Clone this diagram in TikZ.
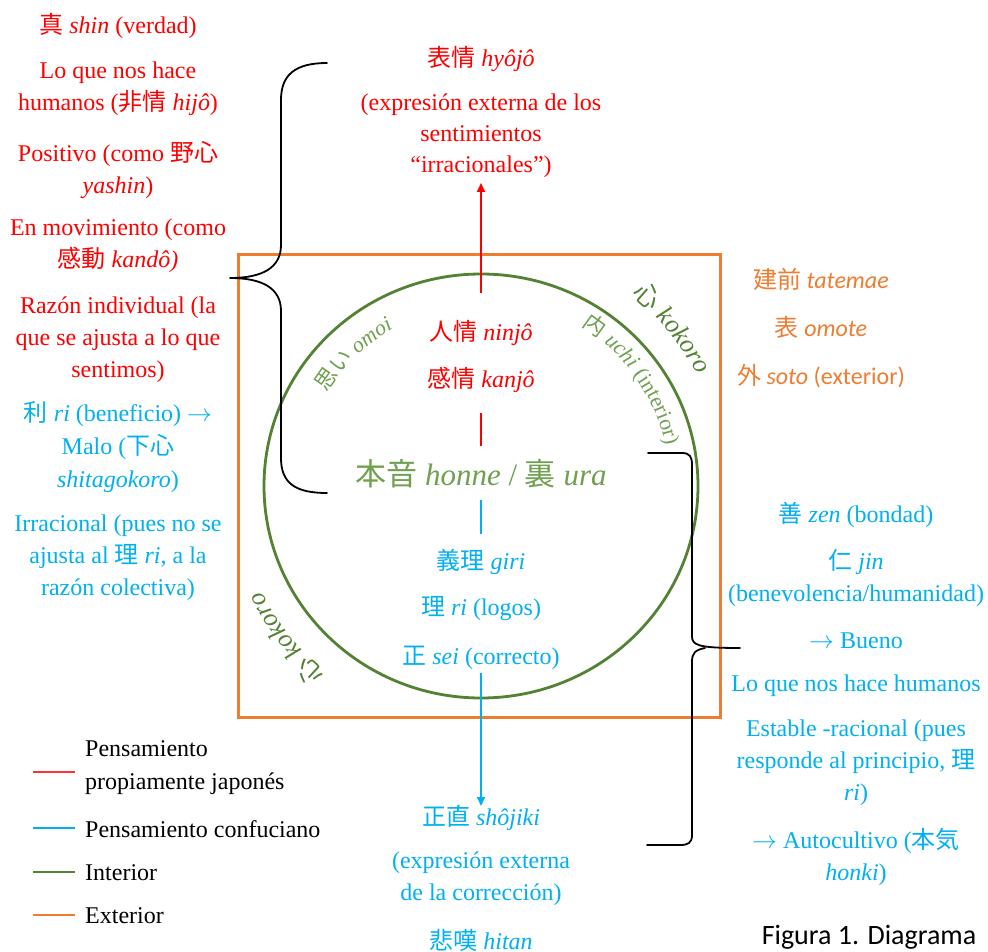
\documentclass[tikz,border=0pt]{standalone}
\usepackage{fontspec}
\setmainfont{Liberation Serif}
\newfontfamily\cjk{Noto Sans CJK JP}
\newfontfamily\calib{Carlito}
\usetikzlibrary{arrows.meta,decorations.text}
\definecolor{jred}{RGB}{255,0,0}
\definecolor{jblue}{RGB}{0,176,240}
\definecolor{jgreen}{RGB}{84,130,53}
\definecolor{jgreenlt}{RGB}{112,160,80}
\definecolor{jorange}{RGB}{237,125,49}
\newcommand{\jp}[1]{{\cjk #1}}
\begin{document}
\begin{tikzpicture}[x=1pt,y=-1pt,
  lt/.style={font=\fontsize{24}{32}\selectfont, align=center, inner sep=0pt},
  ot/.style={font=\calib\fontsize{24}{30}\selectfont, text=jorange, inner sep=0pt},
  lg/.style={font=\fontsize{24}{33}\selectfont, align=left, inner sep=0pt, anchor=west},
  brace/.style={draw=black, line width=1.8pt, line cap=round, line join=round},
  curved/.style={decorate, decoration={text along path, text align=center, text color=#1}},
  arr/.style={line width=1.8pt, -{Triangle[length=9pt,width=8pt]}}
]
\useasboundingbox (0,0) rectangle (988,952);
\fill[white] (0,0) rectangle (988,952);

% frame and circle
\draw[jorange, line width=3pt] (238,255) rectangle (720,717);
\coordinate (C) at (481,486);
\draw[jgreen, line width=2.8pt] (C) ellipse [x radius=217, y radius=212];

% left column
\node[lt,text=jred] (shin) at (118,26) {\jp{真} \textit{shin} (verdad)};
\node[lt,text=jred] (humanos) at (118,89) {Lo que nos hace\\humanos (\jp{非情} \textit{hijô})};
\node[lt,text=jred] (positivo) at (118,170) {Positivo (como \jp{野心}\\\textit{yashin})};
\node[lt,text=jred] (movim) at (118,246) {En movimiento (como\\\jp{感動} \textit{kandô)}};
\node[lt,text=jred] (razon) at (118,340) {Razón individual (la\\que se ajusta a lo que\\sentimos)};
\node[lt,text=jblue,font=\fontsize{24}{33}\selectfont] (ribenef) at (118,447) {\jp{利} \textit{ri} (beneficio) $\rightarrow$\\Malo (\jp{下心}\\\textit{shitagokoro})};
\node[lt,text=jblue] (irrac) at (118,558) {Irracional (pues no se\\ajusta al \jp{理} \textit{ri}, a la\\razón colectiva)};

% top
\node[lt,text=jred] (hyojo) at (481,59) {\jp{表情} \textit{hyôjô}};
\node[lt,text=jred,font=\fontsize{24}{31}\selectfont] (hyojodesc) at (481,136) {(expresión externa de los\\sentimientos\\“irracionales”)};

% inner
\node[lt,text=jred] (ninjo) at (481,333) {\jp{人情} \textit{ninjô}};
\node[lt,text=jred] (kanjo) at (481,380) {\jp{感情} \textit{kanjô}};
\node[inner sep=0pt,text=jgreenlt,font=\fontsize{31}{36}\selectfont] (honne) at (481,474) {\jp{本音} \textit{honne} / \jp{裏} \textit{ura}};
\node[lt,text=jblue] (giri) at (481,562) {\jp{義理} \textit{giri}};
\node[lt,text=jblue] (rilogos) at (481,609) {\jp{理} \textit{ri} (logos)};
\node[lt,text=jblue] (sei) at (481,658) {\jp{正} \textit{sei} (correcto)};

% bottom
\node[lt,text=jblue] (shojiki) at (481,818) {\jp{正直} \textit{shôjiki}};
\node[lt,text=jblue] (correc) at (481,879) {(expresión externa\\de la corrección)};
\node[lt,text=jblue] (hitan) at (481,940) {\jp{悲嘆} \textit{hitan}};

% right column
\node[ot] (tatemae) at (821,279) {\jp{建前} \textit{tatemae}};
\node[ot] (omote) at (821,327) {\jp{表} \textit{omote}};
\node[ot] (soto) at (821,376) {\jp{外} \textit{soto} (exterior)};
\node[lt,text=jblue] (zen) at (856,515) {\jp{善} \textit{zen} (bondad)};
\node[lt,text=jblue] (jin) at (856,578) {\jp{仁} \textit{jin}\\(benevolencia/humanidad)};
\node[lt,text=jblue] (bueno) at (856,641) {$\rightarrow$ Bueno};
\node[lt,text=jblue] (loque) at (856,686) {Lo que nos hace humanos};
\node[lt,text=jblue] (estable) at (856,763) {Estable -racional (pues\\responde al principio, \jp{理}\\\textit{ri})};
\node[lt,text=jblue] (autoc) at (856,857) {$\rightarrow$ Autocultivo (\jp{本気}\\\textit{honki})};

% caption
\node[font=\calib\fontsize{28}{34}\selectfont, inner sep=0pt] (fig) at (869,937) {Figura 1. Diagrama};

% connectors
\coordinate (rstart) at (481,293);
\coordinate (rtip) at (481,183);
\draw[jred, arr] (rstart) -- (rtip);
\coordinate (rl1) at (481,413);
\coordinate (rl2) at (481,446);
\draw[jred, line width=1.5pt] (rl1) -- (rl2);
\coordinate (bl1) at (481,500);
\coordinate (bl2) at (481,534);
\draw[jblue, line width=1.5pt] (bl1) -- (bl2);
\coordinate (bstart) at (481,673);
\coordinate (btip) at (481,806);
\draw[jblue, arr] (bstart) -- (btip);

% braces
\draw[brace] (327,63) .. controls (295,63) and (281,75) .. (281,100) -- (281,245)
  .. controls (281,268) and (262,278) .. (230,278)
  .. controls (262,278) and (281,288) .. (281,311) -- (281,458)
  .. controls (281,483) and (295,493) .. (327,493);
\draw[brace] (648,453) -- (682,453) .. controls (690,453) and (692,457) .. (692,465) -- (692,636)
  .. controls (692,645) and (697,648) .. (740,648);
\draw[brace] (705,648) .. controls (695,650) and (692,653) .. (692,662) -- (692,835)
  .. controls (692,843) and (688,845) .. (680,845) -- (647,845);

% curved labels
\path[curved=jgreenlt, decoration={text={|\cjk\fontsize{22}{26}\selectfont|思い|\rmfamily\itshape\fontsize{22}{26}\selectfont| omoi}}]
  (C) ++(-162:180) arc[start angle=-162, end angle=-106, radius=180];
\path[curved=jgreenlt, decoration={text={|\cjk\fontsize{22}{26}\selectfont|内|\rmfamily\itshape\fontsize{22}{26}\selectfont| uchi |\upshape\fontsize{22}{26}\selectfont|(interior)}}]
  (C) ++(-85:189) arc[start angle=-85, end angle=15, radius=189];
\path[curved=jgreen, decoration={text={|\cjk\fontsize{26}{30}\selectfont|心|\rmfamily\itshape\fontsize{26}{30}\selectfont| kokoro}}]
  (C) ++(-75:243) arc[start angle=-75, end angle=-4, radius=243];
\path[curved=jgreen, decoration={text={|\cjk\fontsize{26}{30}\selectfont|心|\rmfamily\itshape\fontsize{26}{30}\selectfont| kokoro}}]
  (C) ++(-255:243) arc[start angle=-255, end angle=-181, radius=243];

% legend
\coordinate (lr1) at (33,772); \coordinate (lr2) at (75,772);
\coordinate (lb1) at (33,828); \coordinate (lb2) at (75,828);
\coordinate (lgr1) at (33,872); \coordinate (lgr2) at (75,872);
\coordinate (lo1) at (33,915); \coordinate (lo2) at (75,915);
\draw[jred!80, line width=1.6pt] (lr1) -- (lr2);
\draw[jblue, line width=1.6pt] (lb1) -- (lb2);
\draw[jgreen, line width=1.6pt] (lgr1) -- (lgr2);
\draw[jorange, line width=1.6pt] (lo1) -- (lo2);
\node[lg] (leg1) at (85,768) {Pensamiento\\propiamente japonés};
\node[lg] (leg2) at (85,829) {Pensamiento confuciano};
\node[lg] (leg3) at (85,873) {Interior};
\node[lg] (leg4) at (85,916) {Exterior};
\end{tikzpicture}
\end{document}
